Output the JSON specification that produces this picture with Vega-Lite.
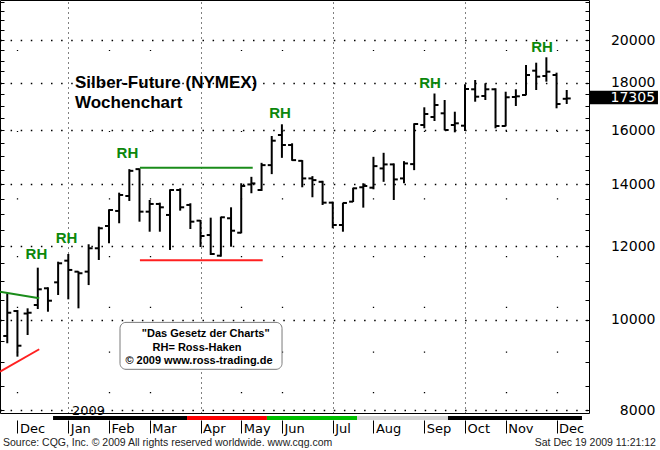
{
  "$schema": "https://vega.github.io/schema/vega-lite/v6.json",
  "width": 589,
  "height": 413,
  "autosize": {"type": "none"},
  "padding": {"left": 0, "top": 0, "right": 71, "bottom": 37},
  "background": "#ffffff",
  "config": {
    "view": {"stroke": "#000000", "strokeWidth": 1},
    "text": {"font": "Liberation Sans"}
  },
  "datasets": {
    "bars": [
      {"d":"2008-11-24","o":9610,"h":10682,"l":9438,"c":10179},
      {"d":"2008-12-01","o":10222,"h":10247,"l":9130,"c":9381},
      {"d":"2008-12-08","o":10159,"h":10291,"l":9633,"c":10179},
      {"d":"2008-12-15","o":10376,"h":11381,"l":10274,"c":10787},
      {"d":"2008-12-22","o":10814,"h":10841,"l":10205,"c":10487},
      {"d":"2008-12-29","o":10975,"h":11551,"l":10636,"c":11505},
      {"d":"2009-01-05","o":11580,"h":11773,"l":10523,"c":11317},
      {"d":"2009-01-12","o":11269,"h":11280,"l":10291,"c":11225},
      {"d":"2009-01-19","o":11269,"h":12060,"l":10901,"c":11941},
      {"d":"2009-01-26","o":11941,"h":12597,"l":11600,"c":12547},
      {"d":"2009-02-02","o":12619,"h":13152,"l":12090,"c":13129},
      {"d":"2009-02-09","o":13097,"h":13704,"l":12704,"c":13626},
      {"d":"2009-02-16","o":13592,"h":14526,"l":13425,"c":14465},
      {"d":"2009-02-23","o":14526,"h":14552,"l":12754,"c":13074},
      {"d":"2009-03-02","o":13074,"h":13458,"l":12441,"c":13326},
      {"d":"2009-03-09","o":13326,"h":13369,"l":12441,"c":13216},
      {"d":"2009-03-16","o":12968,"h":13819,"l":11891,"c":13795},
      {"d":"2009-03-23","o":13795,"h":13853,"l":13107,"c":13216},
      {"d":"2009-03-30","o":13293,"h":13349,"l":12525,"c":12754},
      {"d":"2009-04-06","o":12786,"h":12808,"l":11979,"c":12309},
      {"d":"2009-04-13","o":12339,"h":12881,"l":11744,"c":11773},
      {"d":"2009-04-20","o":11724,"h":12913,"l":11695,"c":12894},
      {"d":"2009-04-27","o":12862,"h":13216,"l":11988,"c":12472},
      {"d":"2009-05-04","o":12410,"h":14027,"l":12392,"c":13933},
      {"d":"2009-05-11","o":13986,"h":14252,"l":13684,"c":14022},
      {"d":"2009-05-18","o":13795,"h":14755,"l":13762,"c":14671},
      {"d":"2009-05-25","o":14671,"h":15768,"l":14348,"c":15586},
      {"d":"2009-06-01","o":15807,"h":16232,"l":14938,"c":15421},
      {"d":"2009-06-08","o":15421,"h":15486,"l":14830,"c":14854},
      {"d":"2009-06-15","o":14828,"h":14854,"l":13888,"c":14196},
      {"d":"2009-06-22","o":14196,"h":14277,"l":13549,"c":14137},
      {"d":"2009-06-29","o":14077,"h":14112,"l":13293,"c":13369},
      {"d":"2009-07-06","o":13369,"h":13402,"l":12547,"c":12650},
      {"d":"2009-07-13","o":12650,"h":13369,"l":12441,"c":13359},
      {"d":"2009-07-20","o":13402,"h":13874,"l":13390,"c":13853},
      {"d":"2009-07-27","o":13888,"h":14027,"l":13205,"c":13933},
      {"d":"2009-08-03","o":13874,"h":14976,"l":13819,"c":14635},
      {"d":"2009-08-10","o":14552,"h":15126,"l":14077,"c":14697},
      {"d":"2009-08-17","o":14697,"h":14733,"l":13458,"c":14161},
      {"d":"2009-08-24","o":14196,"h":14817,"l":14027,"c":14733},
      {"d":"2009-08-31","o":14708,"h":16272,"l":14490,"c":16244},
      {"d":"2009-09-07","o":16204,"h":16930,"l":16072,"c":16651},
      {"d":"2009-09-14","o":16528,"h":17518,"l":16365,"c":17027},
      {"d":"2009-09-21","o":16680,"h":17238,"l":15990,"c":16004},
      {"d":"2009-09-28","o":16204,"h":16746,"l":15913,"c":16272},
      {"d":"2009-10-05","o":16176,"h":17922,"l":15964,"c":17715},
      {"d":"2009-10-12","o":17702,"h":18114,"l":17166,"c":17381},
      {"d":"2009-10-19","o":17411,"h":17967,"l":17238,"c":17702},
      {"d":"2009-10-26","o":17702,"h":17746,"l":16072,"c":16164},
      {"d":"2009-11-02","o":16164,"h":17596,"l":16150,"c":17355},
      {"d":"2009-11-09","o":17367,"h":17702,"l":16985,"c":17397},
      {"d":"2009-11-16","o":17453,"h":18800,"l":17440,"c":18340},
      {"d":"2009-11-23","o":18537,"h":18907,"l":17671,"c":18264},
      {"d":"2009-11-30","o":18295,"h":19162,"l":18039,"c":18491},
      {"d":"2009-12-07","o":18340,"h":18446,"l":16888,"c":17070},
      {"d":"2009-12-14","o":17290,"h":17671,"l":17070,"c":17305}
    ],
    "strip": [
      {"s":"2008-12-25T12:00:00Z","e":"2009-03-27T17:00:00Z","c":"#000000"},
      {"s":"2009-03-27T17:00:00Z","e":"2009-05-21T17:00:00Z","c":"#ff0000"},
      {"s":"2009-05-21T17:00:00Z","e":"2009-07-22T17:00:00Z","c":"#00c000"},
      {"s":"2009-07-22T17:00:00Z","e":"2009-09-23T07:00:00Z","c":"#d4d4d4"},
      {"s":"2009-09-23T07:00:00Z","e":"2009-12-24T12:00:00Z","c":"#000000"}
    ],
    "lines": [
      {"a":"2008-11-19T00:00:00Z","b":"2008-12-16T00:00:00Z","v1":10724,"v2":10550,"c":"#1a8c1a"},
      {"a":"2008-11-19T00:00:00Z","b":"2008-12-16T00:00:00Z","v1":8796,"v2":9299,"c":"#ff2020"},
      {"a":"2009-02-23T07:00:00Z","b":"2009-05-11T22:00:00Z","v1":14578,"v2":14578,"c":"#1a8c1a"},
      {"a":"2009-02-23T07:00:00Z","b":"2009-05-18T19:00:00Z","v1":11591,"v2":11591,"c":"#ff2020"}
    ],
    "rh": [
      {"d":"2008-12-14T02:00:00Z","v":11629,"t":"RH"},
      {"d":"2009-01-03T19:00:00Z","v":12099,"t":"RH"},
      {"d":"2009-02-14T17:00:00Z","v":14928,"t":"RH"},
      {"d":"2009-05-30T17:00:00Z","v":16487,"t":"RH"},
      {"d":"2009-09-10T22:00:00Z","v":17758,"t":"RH"},
      {"d":"2009-11-27T00:00:00Z","v":19415,"t":"RH"}
    ],
    "title": [
      {"d":"2009-01-09T14:00:00Z","v":17746,"t":"Silber-Future (NYMEX)"},
      {"d":"2009-01-09T14:00:00Z","v":16888,"t":"Wochenchart"}
    ],
    "box": [
      {"a":"2009-02-09T14:00:00Z","b":"2009-06-01T02:00:00Z","v1":9939,"v2":8848}
    ],
    "boxtext": [
      {"d":"2009-04-09T14:00:00Z","v":9586,"t":"\"Das Gesetz der Charts\""},
      {"d":"2009-04-03T14:00:00Z","v":9259,"t":"RH= Ross-Haken"},
      {"d":"2009-04-04T22:00:00Z","v":8966,"t":"© 2009  www.ross-trading.de"}
    ],
    "year": [
      {"d":"2009-01-07T13:00:00Z","v":7901,"t":"2009"}
    ],
    "last": [
      {"a":"2009-12-30T00:00:00Z","b":"2010-02-14T19:00:00Z","v1":17639,"v2":17056,"d":"2010-02-12T19:00:00Z","v":17305,"t":"17305"}
    ],
    "footl": [
      {"d":"2008-11-21T01:00:00Z","v":7309,"t":"Source: CQG, Inc. © 2009 All rights reserved worldwide. www.cqg.com"}
    ],
    "footr": [
      {"d":"2010-02-13T10:00:00Z","v":7309,"t":"Sat Dec 19 2009 11:21:12"}
    ]
  },
  "resolve": {"axis": {"x": "independent", "y": "independent"}},
  "layer": [
    {
      "data": {"name": "bars"},
      "mark": {"type": "rule", "strokeWidth": 2, "color": "#000000", "x2Offset": 4},
      "encoding": {
        "x": {
          "field": "d", "type": "temporal",
          "axis": {
            "orient": "top",
            "values": [
              {"year":2009,"month":1,"date":5,"utc":true},
              {"year":2009,"month":4,"date":6,"utc":true},
              {"year":2009,"month":7,"date":6,"utc":true},
              {"year":2009,"month":10,"date":5,"utc":true}
            ],
            "labels": false, "ticks": false, "domain": false, "title": null,
            "grid": true, "gridDash": [1, 4], "gridWidth": 1, "gridColor": "#000000"
          }
        },
        "x2": {"field": "d"},
        "y": {
          "field": "c", "type": "quantitative",
          "axis": {
            "orient": "left",
            "values": [8000,10000,12000,14000,16000,18000,20000],
            "labels": false, "ticks": false, "domain": false, "title": null,
            "grid": true, "gridDash": [1.5, 8.6], "gridWidth": 1.3, "gridColor": "#000000"
          }
        }
      }
    },
    {
      "data": {"name": "strip"},
      "mark": {"type": "rule", "strokeWidth": 4},
      "encoding": {
        "x": {
          "field": "s", "type": "temporal",
          "axis": {
            "orient": "top",
            "values": [
              {"year":2008,"month":12,"date":1,"utc":true},
              {"year":2009,"month":2,"date":2,"utc":true},
              {"year":2009,"month":3,"date":2,"utc":true},
              {"year":2009,"month":5,"date":4,"utc":true},
              {"year":2009,"month":6,"date":1,"utc":true},
              {"year":2009,"month":8,"date":3,"utc":true},
              {"year":2009,"month":9,"date":7,"utc":true},
              {"year":2009,"month":11,"date":2,"utc":true},
              {"year":2009,"month":12,"date":7,"utc":true}
            ],
            "labels": false, "ticks": false, "domain": false, "title": null,
            "grid": true, "gridWidth": 1.3, "gridColor": "#000000",
            "gridDash": [0, 20.3, 1.2, 39.2, 1.2, 43.7, 1.2, 49.4, 1.2, 56.6, 1.2, 66.2, 1.2, 79.8, 1.2, 100]
          }
        },
        "x2": {"field": "e"},
        "y": {"datum": 7843, "type": "quantitative", "axis": null},
        "color": {"field": "c", "type": "nominal", "scale": null}
      }
    },
    {
      "data": {"name": "bars"},
      "mark": {"type": "rule", "strokeWidth": 2, "color": "#000000"},
      "encoding": {
        "x": {
          "field": "d", "type": "temporal",
          "scale": {"type": "utc", "nice": false, "domain": [{"year":2008,"month":11,"date":19,"utc":true},{"year":2009,"month":12,"date":29,"hours":8,"utc":true}]},
          "axis": {
            "orient": "bottom",
            "values": [
              {"year":2008,"month":12,"date":1,"utc":true},
              {"year":2009,"month":1,"date":5,"utc":true},
              {"year":2009,"month":2,"date":2,"utc":true},
              {"year":2009,"month":3,"date":2,"utc":true},
              {"year":2009,"month":4,"date":6,"utc":true},
              {"year":2009,"month":5,"date":4,"utc":true},
              {"year":2009,"month":6,"date":1,"utc":true},
              {"year":2009,"month":7,"date":6,"utc":true},
              {"year":2009,"month":8,"date":3,"utc":true},
              {"year":2009,"month":9,"date":7,"utc":true},
              {"year":2009,"month":10,"date":5,"utc":true},
              {"year":2009,"month":11,"date":2,"utc":true},
              {"year":2009,"month":12,"date":7,"utc":true}
            ],
            "labelExpr": "utcFormat(datum.value, '%b')",
            "offset": 7,
            "tickSize": 13,
            "tickColor": "#000000",
            "domain": false,
            "labelAlign": "left",
            "labelOffset": 2,
            "labelPadding": -1,
            "labelBaseline": "alphabetic",
            "labelFont": "DejaVu Sans",
            "labelFontSize": 13,
            "labelColor": "#000000",
            "labelFlush": false,
            "labelOverlap": false,
            "labelBound": false,
            "title": null,
            "grid": false
          }
        },
        "y": {
          "field": "l", "type": "quantitative",
          "scale": {"type": "log", "domain": [7941, 22083], "nice": false},
          "axis": {
            "orient": "right",
            "values": [8000,8500,9000,9500,10000,10500,11000,11500,12000,12500,13000,13500,14000,14500,15000,15500,16000,16500,17000,17500,18000,18500,19000,19500,20000,20500,21000,21500,22000],
            "format": "d",
            "labelExpr": "(datum.value % 2000 === 0 && datum.value < 21000) ? datum.label : ''",
            "offset": -4,
            "tickSize": 4,
            "tickColor": "#000000",
            "domain": false,
            "labelAlign": "right",
            "labelBaseline": "middle",
            "labelPadding": 66,
            "labelFont": "DejaVu Sans",
            "labelFontSize": 14,
            "labelColor": "#000000",
            "labelFlush": false,
            "labelOverlap": false,
            "labelBound": false,
            "title": null,
            "grid": false
          }
        },
        "y2": {"field": "h"}
      }
    },
    {
      "data": {"name": "bars"},
      "mark": {"type": "rule", "strokeWidth": 2, "color": "#000000", "xOffset": -4},
      "encoding": {
        "x": {"field": "d", "type": "temporal", "axis": null},
        "x2": {"field": "d"},
        "y": {
          "field": "o", "type": "quantitative",
          "axis": {
            "orient": "left",
            "values": [8000,8500,9000,9500,10000,10500,11000,11500,12000,12500,13000,13500,14000,14500,15000,15500,16000,16500,17000,17500,18000,18500,19000,19500,20000,20500,21000,21500,22000],
            "labels": false,
            "domain": false,
            "grid": false,
            "tickSize": 4,
            "offset": -4,
            "tickColor": "#000000",
            "title": null
          }
        }
      }
    },
    {
      "data": {"name": "lines"},
      "mark": {"type": "rule", "strokeWidth": 2},
      "encoding": {
        "x": {"field": "a", "type": "temporal", "axis": null},
        "x2": {"field": "b"},
        "y": {"field": "v1", "type": "quantitative", "axis": null},
        "y2": {"field": "v2"},
        "color": {"field": "c", "type": "nominal", "scale": null}
      }
    },
    {
      "data": {"name": "box"},
      "mark": {"type": "rect", "fill": "#ffffff", "stroke": "#7a7a7a", "strokeWidth": 1, "cornerRadius": 6},
      "encoding": {
        "x": {"field": "a", "type": "temporal", "axis": null},
        "x2": {"field": "b"},
        "y": {"field": "v1", "type": "quantitative", "axis": null},
        "y2": {"field": "v2"}
      }
    },
    {
      "data": {"name": "boxtext"},
      "mark": {"type": "text", "font": "Liberation Sans", "fontWeight": "bold", "fontSize": 11, "align": "center", "baseline": "alphabetic", "color": "#000000"},
      "encoding": {
        "x": {"field": "d", "type": "temporal", "axis": null},
        "y": {"field": "v", "type": "quantitative", "axis": null},
        "text": {"field": "t"}
      }
    },
    {
      "data": {"name": "rh"},
      "mark": {"type": "text", "font": "Liberation Sans", "fontWeight": "bold", "fontSize": 15, "align": "center", "baseline": "alphabetic", "color": "#0c870c"},
      "encoding": {
        "x": {"field": "d", "type": "temporal", "axis": null},
        "y": {"field": "v", "type": "quantitative", "axis": null},
        "text": {"field": "t"}
      }
    },
    {
      "data": {"name": "title"},
      "mark": {"type": "text", "font": "Liberation Sans", "fontWeight": "bold", "fontSize": 17, "align": "left", "baseline": "alphabetic", "color": "#000000"},
      "encoding": {
        "x": {"field": "d", "type": "temporal", "axis": null},
        "y": {"field": "v", "type": "quantitative", "axis": null},
        "text": {"field": "t"}
      }
    },
    {
      "data": {"name": "year"},
      "mark": {"type": "text", "font": "DejaVu Sans", "fontSize": 13, "align": "left", "baseline": "alphabetic", "color": "#000000"},
      "encoding": {
        "x": {"field": "d", "type": "temporal", "axis": null},
        "y": {"field": "v", "type": "quantitative", "axis": null},
        "text": {"field": "t"}
      }
    },
    {
      "data": {"name": "last"},
      "mark": {"type": "rect", "fill": "#000000"},
      "encoding": {
        "x": {"field": "a", "type": "temporal", "axis": null},
        "x2": {"field": "b"},
        "y": {"field": "v1", "type": "quantitative", "axis": null},
        "y2": {"field": "v2"}
      }
    },
    {
      "data": {"name": "last"},
      "mark": {"type": "text", "font": "DejaVu Sans", "fontSize": 14, "align": "right", "baseline": "middle", "color": "#ffffff"},
      "encoding": {
        "x": {"field": "d", "type": "temporal", "axis": null},
        "y": {"field": "v", "type": "quantitative", "axis": null},
        "text": {"field": "t"}
      }
    },
    {
      "data": {"name": "footl"},
      "mark": {"type": "text", "font": "Liberation Sans", "fontSize": 10.5, "align": "left", "baseline": "alphabetic", "color": "#222222"},
      "encoding": {
        "x": {"field": "d", "type": "temporal", "axis": null},
        "y": {"field": "v", "type": "quantitative", "axis": null},
        "text": {"field": "t"}
      }
    },
    {
      "data": {"name": "footr"},
      "mark": {"type": "text", "font": "Liberation Sans", "fontSize": 10.5, "align": "right", "baseline": "alphabetic", "color": "#222222"},
      "encoding": {
        "x": {"field": "d", "type": "temporal", "axis": null},
        "y": {"field": "v", "type": "quantitative", "axis": null},
        "text": {"field": "t"}
      }
    }
  ]
}
